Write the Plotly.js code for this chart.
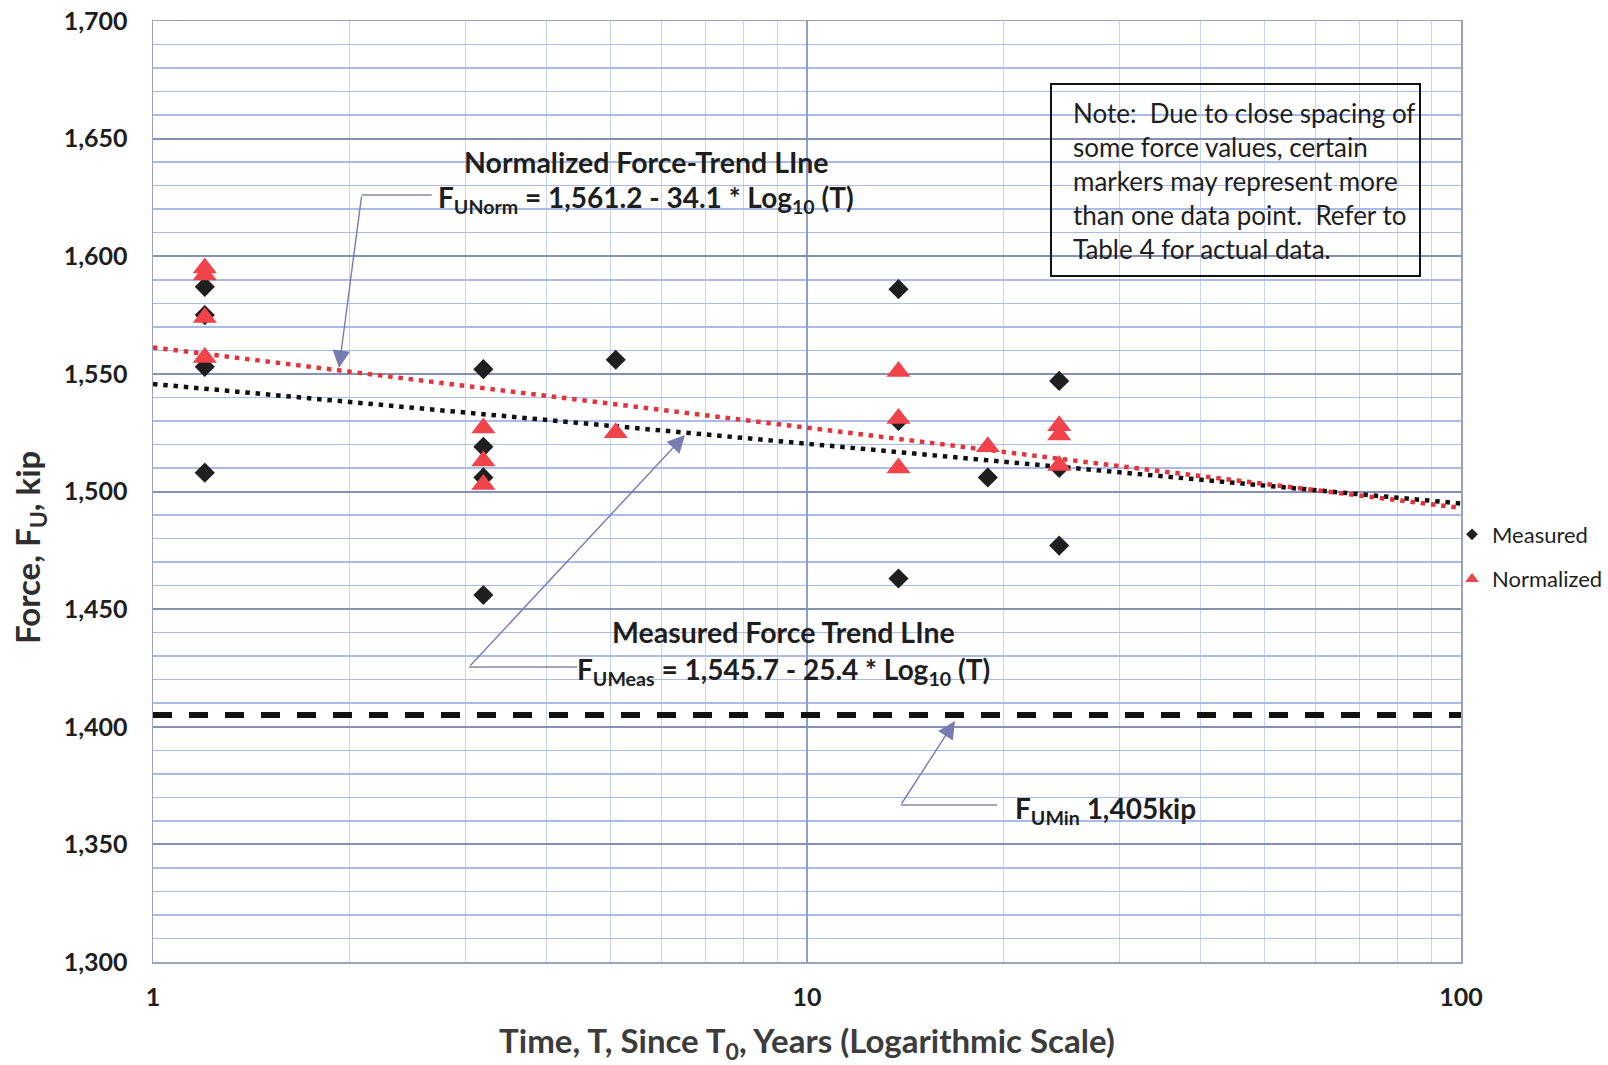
<!DOCTYPE html>
<html>
<head>
<meta charset="utf-8">
<script src="https://cdn.plot.ly/plotly-3.0.1.min.js"></script>
<style>html,body{margin:0;padding:0;background:#fff;}#chart{width:1608px;height:1065px;}</style>
</head>
<body>
<div id="chart"></div>
<script>
// ---- data ----
const measuredT = [1.2, 1.2, 1.2, 1.2, 3.2, 3.2, 3.2, 3.2, 5.1, 13.8, 13.8, 13.8, 18.9, 24.3, 24.3, 24.3];
const measuredF = [1587, 1575, 1553, 1508, 1552, 1519, 1506, 1456, 1556, 1586, 1530, 1463, 1506, 1547, 1510, 1477];
const normalizedT = [1.2, 1.2, 1.2, 1.2, 3.2, 3.2, 3.2, 5.1, 13.8, 13.8, 13.8, 18.9, 24.3, 24.3, 24.3];
const normalizedF = [1595, 1592, 1574, 1557, 1527, 1513, 1503, 1525, 1551, 1531, 1510, 1519, 1528, 1524, 1511];
const trendT = [1, 100];
const normTrendF = [1561.2, 1493.0];
const measTrendF = [1545.7, 1494.9];
const minT = [1, 100];
const minF = [1405, 1405];
const yTickVals = [1300, 1350, 1400, 1450, 1500, 1550, 1600, 1650, 1700];
const xTickVals = [1, 10, 100];
const noteLines = [
  "Note:  Due to close spacing of",
  "some force values, certain",
  "markers may represent more",
  "than one data point.  Refer to",
  "Table 4 for actual data."
];

const FONT = "Lato, 'Open Sans', sans-serif";
const TXT = '#1e1e1e';

const traces = [
  {x: trendT, y: measTrendF, type: 'scatter', mode: 'lines', showlegend: false, hoverinfo: 'skip',
   line: {color: '#111111', width: 4.5, dash: '4.5px,5.8px'}},
  {x: trendT, y: normTrendF, type: 'scatter', mode: 'lines', showlegend: false, hoverinfo: 'skip',
   line: {color: '#e3333b', width: 4.5, dash: '4.5px,5.8px'}},
  {x: minT, y: minF, type: 'scatter', mode: 'lines', showlegend: false, hoverinfo: 'skip',
   line: {color: '#111111', width: 6, dash: '19px,17px'}},
  {x: measuredT, y: measuredF, type: 'scatter', mode: 'markers', name: 'Measured', showlegend: false,
   marker: {symbol: 'diamond', size: 15.5, color: '#1f1f1f'}},
  {x: normalizedT, y: normalizedF, type: 'scatter', mode: 'markers', name: 'Normalized', showlegend: false,
   marker: {symbol: 'triangle-up', size: 21, color: '#f0434a'}},
  // legend entries
  {x: [null], y: [null], type: 'scatter', mode: 'markers', name: 'Measured', legendgroup: 'm',
   marker: {symbol: 'diamond', size: 9, color: '#1f1f1f'}},
  {x: [null], y: [null], type: 'scatter', mode: 'markers', name: 'Normalized', legendgroup: 'n',
   marker: {symbol: 'triangle-up', size: 12, color: '#f0434a'}}
];

const L = 153, R = 1461, T = 21, B = 962;
function px(X) { return (X - L) / (R - L); }
function py(Y) { return (B - Y) / (B - T); }

const boldTitle = {family: FONT, size: 28.5, color: TXT, weight: 'bold'};
const boldEq = {family: FONT, size: 28, color: TXT, weight: 'bold'};

const annotations = [
  {xref: 'paper', yref: 'paper', x: px(646), y: py(162), text: 'Normalized Force-Trend LIne',
   showarrow: false, font: boldTitle, xanchor: 'center', yanchor: 'middle'},
  {xref: 'paper', yref: 'paper', x: px(646), y: py(199), text: 'F<sub>UNorm</sub> = 1,561.2 - 34.1 * Log<sub>10</sub> (T)',
   showarrow: false, font: boldEq, xanchor: 'center', yanchor: 'middle'},
  {xref: 'paper', yref: 'paper', x: px(783), y: py(632), text: 'Measured Force Trend LIne',
   showarrow: false, font: boldTitle, xanchor: 'center', yanchor: 'middle'},
  {xref: 'paper', yref: 'paper', x: px(783), y: py(671), text: 'F<sub>UMeas</sub> = 1,545.7 - 25.4 * Log<sub>10</sub> (T)',
   showarrow: false, font: boldEq, xanchor: 'center', yanchor: 'middle'},
  {xref: 'paper', yref: 'paper', x: px(1013), y: py(810), text: 'F<sub>UMin</sub> 1,405kip',
   showarrow: false, font: boldEq, xanchor: 'left', yanchor: 'middle'},
  // arrows
  {xref: 'paper', yref: 'paper', x: px(339), y: py(368), ax: 22.7, ay: -173, axref: 'pixel', ayref: 'pixel',
   text: '', showarrow: true, arrowhead: 2, arrowsize: 2.5, arrowwidth: 1.4, arrowcolor: '#767cb0', standoff: 0},
  {xref: 'paper', yref: 'paper', x: px(685), y: py(435), ax: -216, ay: 232, axref: 'pixel', ayref: 'pixel',
   text: '', showarrow: true, arrowhead: 2, arrowsize: 2.5, arrowwidth: 1.4, arrowcolor: '#767cb0', standoff: 0},
  {xref: 'paper', yref: 'paper', x: px(955), y: py(721), ax: -54.3, ay: 84, axref: 'pixel', ayref: 'pixel',
   text: '', showarrow: true, arrowhead: 2, arrowsize: 2.5, arrowwidth: 1.4, arrowcolor: '#767cb0', standoff: 0},
  // y axis title
  {xref: 'paper', yref: 'paper', x: px(29), y: py(548), text: 'Force, F<sub>U</sub>, kip', textangle: -90,
   showarrow: false, font: {family: FONT, size: 33, color: '#2e2e2e', weight: 'bold'}, xanchor: 'center', yanchor: 'middle'}
];
const noteY = [113, 147, 181, 215, 249];
noteLines.forEach(function (s, i) {
  annotations.push({xref: 'paper', yref: 'paper', x: px(1071), y: py(noteY[i]), text: s, showarrow: false,
    xanchor: 'left', yanchor: 'middle', font: {family: FONT, size: 26, color: TXT}});
});

const shapes = [
  {type: 'line', xref: 'paper', yref: 'paper', x0: px(361.7), y0: py(195), x1: px(431.7), y1: py(195),
   line: {color: '#85879a', width: 1.4}},
  {type: 'line', xref: 'paper', yref: 'paper', x0: px(469), y0: py(667), x1: px(577), y1: py(667),
   line: {color: '#85879a', width: 1.4}},
  {type: 'line', xref: 'paper', yref: 'paper', x0: px(900.7), y0: py(805), x1: px(997), y1: py(805),
   line: {color: '#85879a', width: 1.4}},
  {type: 'rect', xref: 'paper', yref: 'paper', x0: px(1051), y0: py(276), x1: px(1420), y1: py(84),
   line: {color: '#111111', width: 2}, fillcolor: 'rgba(0,0,0,0)'}
];

const layout = {
  width: 1608, height: 1065, autosize: false,
  margin: {l: L, r: 1608 - R, t: T, b: 1065 - B, pad: 0, autoexpand: false},
  paper_bgcolor: '#ffffff', plot_bgcolor: '#ffffff',
  font: {family: FONT, color: TXT},
  xaxis: {
    type: 'log', range: [0, 2], tickvals: xTickVals, ticktext: xTickVals.map(String),
    showgrid: true, gridcolor: '#8a9dd6', gridwidth: 1.5,
    minor: {dtick: 'D1', showgrid: true, gridcolor: '#c6d4f0', gridwidth: 1, ticks: ''},
    showline: true, linecolor: '#9aa2bf', linewidth: 1.5, mirror: true,
    zeroline: false, ticks: '', ticklabelstandoff: 12, automargin: true,
    tickfont: {family: FONT, size: 25, color: TXT, weight: 'bold'},
    title: {text: 'Time, T, Since T<sub>0</sub>, Years (Logarithmic Scale)', standoff: 25,
            font: {family: FONT, size: 33, color: '#3c3c3c', weight: 'bold'}}
  },
  yaxis: {
    range: [1300, 1700], tickvals: yTickVals, tickformat: ',d',
    showgrid: true, gridcolor: '#8590b5', gridwidth: 2,
    minor: {dtick: 10, showgrid: true, gridcolor: '#a9bbe8', gridwidth: 1.5, ticks: ''},
    showline: true, linecolor: '#9aa2bf', linewidth: 1.5, mirror: true,
    zeroline: false, ticks: '', ticklabelstandoff: 19, automargin: false,
    tickfont: {family: FONT, size: 25, color: TXT, weight: 'bold'}
  },
  showlegend: true,
  legend: {x: px(1452), y: py(557), xanchor: 'left', yanchor: 'middle', xref: 'paper', yref: 'paper',
           bgcolor: 'rgba(0,0,0,0)', borderwidth: 0, tracegroupgap: 13, traceorder: 'grouped',
           font: {family: FONT, size: 22, color: TXT}, itemwidth: 30},
  annotations: annotations,
  shapes: shapes
};

Plotly.newPlot('chart', traces, layout, {displayModeBar: false, staticPlot: true});
</script>
</body>
</html>
